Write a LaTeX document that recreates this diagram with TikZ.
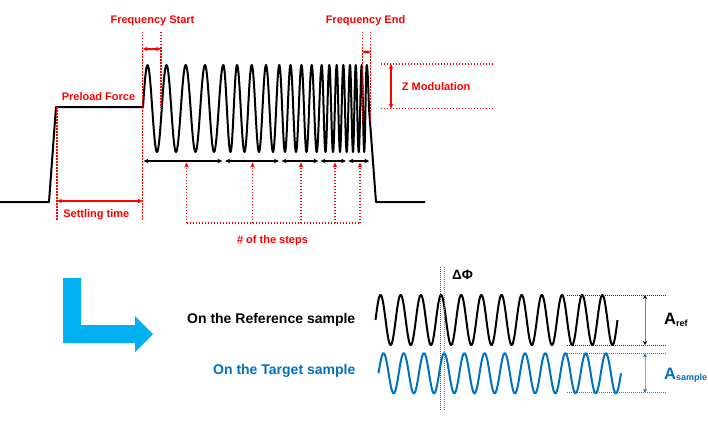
\documentclass[tikz,border=0pt]{standalone}
\usepackage{fontspec}
\setmainfont{Liberation Sans}
\usetikzlibrary{arrows.meta}
\definecolor{redc}{RGB}{255,0,0}
\definecolor{blueT}{RGB}{0,112,192}
\definecolor{cyanA}{RGB}{0,176,240}
\definecolor{lblue}{RGB}{120,175,225}
\begin{document}
\begin{tikzpicture}[x=1pt,y=-1pt,
  wave/.style={line width=2pt, line join=round},
  rdot/.style={redc, line width=1.5pt, dash pattern=on 1.5pt off 1.5pt},
  rarr/.style={redc, line width=1.3pt, {Stealth[length=5pt,width=4.5pt]}-{Stealth[length=5pt,width=4.5pt]}},
  rup/.style={redc, line width=1.5pt, dash pattern=on 1.5pt off 1.5pt, -{Stealth[length=5pt,width=4.5pt]}},
  karr/.style={black, line width=1.2pt, {Stealth[length=5pt,width=4.5pt]}-{Stealth[length=5pt,width=4.5pt]}},
  redtxt/.style={text=redc, font=\fontsize{11}{13}\selectfont\bfseries, inner sep=0pt, anchor=base},
  bigtxt/.style={font=\fontsize{14}{16}\selectfont\bfseries, inner sep=0pt, anchor=base west},
  kdot/.style={black!80, line width=1pt, dash pattern=on 1pt off 1pt},
  bdot/.style={blueT!85, line width=1pt, dash pattern=on 1pt off 1pt}
]
\useasboundingbox (0,0) rectangle (708,420);

% ---------- top waveform ----------
\draw[wave] (0,202) -- (49,202) -- (56,107) -- (143,107)
  \foreach \e/\y/\m in {147.5/65/152.25, 157/152/161.75, 166.5/65/171.25, 176/152/180.85,
    185.7/65/190.6, 195.5/152/200.25, 205/65/209.5, 214/152/218.65, 223.3/65/226.9,
    230.5/152/233.75, 237/65/240.75, 244.5/152/248.1, 251.7/65/255.35, 259/152/262.5,
    266/65/269.5, 273/152/276.15, 279.3/65/282.15, 285/152/287.75, 290.5/65/293.25,
    296/152/298.75, 301.5/65/304, 306.5/152/309.1, 311.7/65/314.2, 316.7/152/319.2,
    321.7/65/323.6, 325.5/152/327.4, 329.3/65/331.15, 333/152/334.85, 336.7/65/338.35,
    340/152/341.65, 343.3/65/345, 346.7/152/348.35, 350/65/351.5, 353/152/354.35,
    355.7/65/357.2, 358.7/152/360.2, 361.7/65/362.95, 364.2/152/365.45, 366.7/65/369}
  { sin (\e,\y) cos (\m,108.5) }
  -- (376,202) -- (425,202);

% ---------- red annotations ----------
\coordinate (fs1t) at (142.7,32);  \coordinate (fs1b) at (142.7,220);
\coordinate (fs2t) at (161,32);    \coordinate (fs2b) at (161,108);
\coordinate (fsa1) at (142.7,49);  \coordinate (fsa2) at (161,49);
\draw[rdot] (fs1t) -- (fs1b);
\draw[rdot] (fs2t) -- (fs2b);
\draw[rarr] (fsa1) -- (fsa2);
\node[redtxt] (fstart) at (152.5,24) {Frequency Start};

\coordinate (fe1t) at (362.3,32);  \coordinate (fe1b) at (362.3,122);
\coordinate (fe2t) at (370.7,32);  \coordinate (fe2b) at (370.7,122);
\coordinate (fea1) at (362.3,52);  \coordinate (fea2) at (370.7,52);
\draw[rdot] (fe1t) -- (fe1b);
\draw[rdot] (fe2t) -- (fe2b);
\draw[redc, line width=1.1pt, {Stealth[length=3.5pt,width=3.5pt]}-{Stealth[length=3.5pt,width=3.5pt]}] (fea1) -- (fea2);
\node[redtxt] (fend) at (365.5,24) {Frequency End};

\coordinate (zt1) at (380.7,64);   \coordinate (zt2) at (494,64);
\coordinate (zb1) at (380.7,108.7); \coordinate (zb2) at (494,108.7);
\coordinate (za1) at (391,64);     \coordinate (za2) at (391,108.7);
\draw[rdot] (zt1) -- (zt2);
\draw[rdot] (zb1) -- (zb2);
\draw[rarr] (za1) -- (za2);
\node[redtxt, anchor=base west] (zmod) at (401.7,90.7) {Z Modulation};

\node[redtxt] (pre) at (98.5,100) {Preload Force};
\coordinate (prt) at (57,107); \coordinate (prb) at (57,220);
\draw[rdot] (prt) -- (prb);
\coordinate (st1) at (57,201); \coordinate (st2) at (142.7,201);
\draw[rarr] (st1) -- (st2);
\node[redtxt] (settle) at (96.3,217.3) {Settling time};

% step arrows
\foreach \a/\b [count=\i] in {143.5/222.5, 225/279, 281.5/318.5, 320.5/346, 348.3/369.3}{
  \coordinate (sa\i) at (\a,161); \coordinate (sb\i) at (\b,161);
  \draw[karr] (sa\i) -- (sb\i);
}
\foreach \x [count=\i] in {186.5, 252.5, 301, 335, 360}{
  \coordinate (ub\i) at (\x,223); \coordinate (ut\i) at (\x,162.5);
  \draw[rup] (ub\i) -- (ut\i);
}
\draw[rdot] (ub1) -- (ub5);
\node[redtxt] (steps) at (272.5,243.5) {\# of the steps};

% ---------- bottom part ----------
\fill[cyanA] (63,278) -- (81,278) -- (81,325) -- (135,325) -- (135,316) -- (153,334)
  -- (135,352) -- (135,343) -- (63,343) -- cycle;

\node[bigtxt] (reftxt) at (187,323.3) {On the Reference sample};
\node[bigtxt, text=blueT] (tgttxt) at (213,374.5) {On the Target sample};

\draw[wave] plot[domain=375.5:617.5, samples=600, smooth] (\x, {320 - 25*sin((\x-375.5)/20.1667*360)});
\draw[wave, blueT] plot[domain=378.5:621, samples=600, smooth] (\x, {373.3 - 20*sin((\x-378.5)/20.2083*360)});

\coordinate (dk1) at (440.7,267); \coordinate (dk2) at (440.7,410);
\coordinate (db1) at (444.3,267); \coordinate (db2) at (444.3,410);
\draw[kdot, line width=1.4pt, black!70] (dk1) -- (dk2);
\draw[bdot] (db1) -- (db2);
\node[font=\fontsize{13.5}{15}\selectfont\bfseries, inner sep=0pt, anchor=base west] (dphi) at (452,279.5) {ΔΦ};

\coordinate (ar1) at (566.7,295); \coordinate (ar2) at (666.7,295);
\coordinate (ar3) at (566.7,345); \coordinate (ar4) at (666.7,345);
\draw[kdot] (ar1) -- (ar2);
\draw[kdot] (ar3) -- (ar4);
\coordinate (ara) at (645,295); \coordinate (arb) at (645,345);
\draw[gray, line width=0.8pt, {Stealth[length=4pt,width=4pt,black]}-{Stealth[length=4pt,width=4pt,black]}] (ara) -- (arb);
\node[inner sep=0pt, anchor=base west, font=\bfseries] (aref) at (664,324.3)
  {\fontsize{16.5}{18}\selectfont A\raisebox{-1.8pt}{\fontsize{9}{10}\selectfont ref}};

\coordinate (as1) at (566.7,353.3); \coordinate (as2) at (666.7,353.3);
\coordinate (as3) at (566.7,392.7); \coordinate (as4) at (666.7,392.7);
\draw[bdot] (as1) -- (as2);
\draw[bdot] (as3) -- (as4);
\coordinate (asa) at (645,353.3); \coordinate (asb) at (645,392.7);
\draw[lblue, line width=0.8pt, {Stealth[length=4pt,width=4pt,blueT]}-{Stealth[length=4pt,width=4pt,blueT]}] (asa) -- (asb);
\node[inner sep=0pt, anchor=base west, font=\bfseries, text=blueT] (asmp) at (664,379.3)
  {\fontsize{16.5}{18}\selectfont A\raisebox{-1.5pt}{\fontsize{9}{10}\selectfont sample}};
\end{tikzpicture}
\end{document}
